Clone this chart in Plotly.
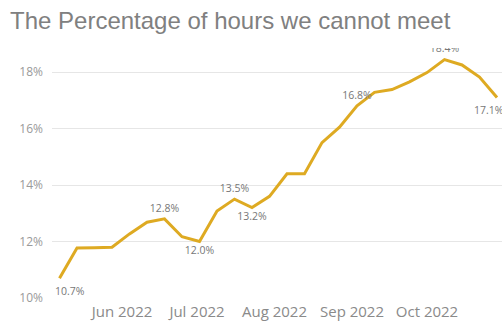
import plotly.graph_objects as go

dates = ["2022-05-07", "2022-05-14", "2022-05-21", "2022-05-28", "2022-06-04", "2022-06-11",
         "2022-06-18", "2022-06-25", "2022-07-02", "2022-07-09", "2022-07-16", "2022-07-23",
         "2022-07-30", "2022-08-06", "2022-08-13", "2022-08-20", "2022-08-27", "2022-09-03",
         "2022-09-10", "2022-09-17", "2022-09-24", "2022-10-01", "2022-10-08", "2022-10-15",
         "2022-10-22", "2022-10-29"]
pct = [10.7, 11.77, 11.78, 11.8, 12.27, 12.68, 12.8, 12.17, 12.0, 13.08, 13.5, 13.2,
       13.6, 14.4, 14.4, 15.5, 16.05, 16.8, 17.28, 17.38, 17.65, 17.98, 18.44, 18.25,
       17.82, 17.1]
labeled_inline = {6: "top center", 8: "bottom center", 10: "top center",
                  11: "bottom center", 17: "top center", 22: "top center"}
labeled_edge = [0, 25]
month_ticks = ["2022-06-01", "2022-07-01", "2022-08-01", "2022-09-01", "2022-10-01"]
month_labels = ["Jun 2022", "Jul 2022", "Aug 2022", "Sep 2022", "Oct 2022"]
y_ticks = [10, 12, 14, 16, 18]
y_labels = ["10%", "12%", "14%", "16%", "18%"]

label_font = dict(family="Open Sans, DejaVu Sans", size=10.5, color="#777777")
texts = [f"{v:.1f}%" if i in labeled_inline else "" for i, v in enumerate(pct)]
positions = [labeled_inline.get(i, "top center") for i in range(len(pct))]

fig = go.Figure(go.Scatter(
    x=dates, y=pct, mode="lines+markers+text",
    line=dict(color="#DEAA22", width=3),
    marker=dict(size=6, color="rgba(0,0,0,0)"),
    text=texts, textposition=positions, textfont=label_font,
    cliponaxis=True, hoverinfo="skip"))

edge_shift = {0: 10, 25: -8}
for i in labeled_edge:
    fig.add_annotation(x=dates[i], y=pct[i], text=f"{pct[i]:.1f}%", showarrow=False,
                       xshift=edge_shift[i], yshift=-13, font=label_font)

fig.update_layout(
    width=502, height=321,
    margin=dict(l=52, r=0, t=48, b=23, autoexpand=False),
    paper_bgcolor="white", plot_bgcolor="white",
    showlegend=False,
    title=dict(text="The Percentage of hours we cannot meet", x=0.02, xanchor="left",
               y=0.935, yanchor="middle",
               font=dict(family="Liberation Sans, Arial", size=24, color="#808080")),
    xaxis=dict(range=["2022-05-04", "2022-10-31"], tickvals=month_ticks, ticktext=month_labels,
               showgrid=False, zeroline=False, showline=False, ticks="", automargin=False,
               ticklabelstandoff=3,
               tickfont=dict(family="Open Sans, DejaVu Sans", size=15, color="#8a8a8a")),
    yaxis=dict(range=[10, 18.85], tickvals=y_ticks, ticktext=y_labels,
               showgrid=True, gridcolor="#e6e6e6", gridwidth=1, zeroline=False,
               showline=False, ticks="", ticklabelstandoff=8, automargin=False,
               tickfont=dict(family="Open Sans, DejaVu Sans", size=12, color="#9a9a9a")),
)

fig.write_html("out.html", config={"displayModeBar": False},
               post_script="document.body.style.margin='0';document.body.style.overflow='hidden';")
